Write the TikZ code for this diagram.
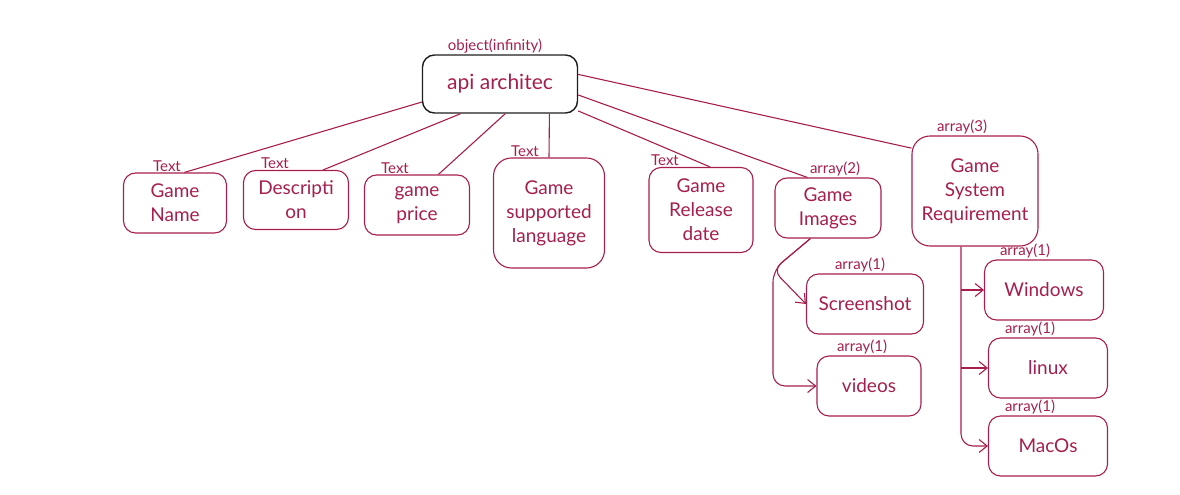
\documentclass[tikz,border=0pt]{standalone}
\usepackage{fontspec}
\setmainfont{Lato}
\usetikzlibrary{arrows.meta}
\definecolor{ink}{HTML}{A61E4D}
\definecolor{pen}{HTML}{1E1E1E}

\begin{document}
\begin{tikzpicture}[x=1pt, y=-1pt, line width=1.1pt, ink,
  box/.style = {draw=ink, text=ink, rounded corners=12pt, align=center, font=\fontsize{19}{24}\selectfont, inner sep=0pt},
  tag/.style = {text=ink, font=\fontsize{15}{16}\selectfont, inner sep=0.5pt},
  >={Straight Barb[length=8pt,width=13pt]}]
\useasboundingbox (0,0) rectangle (1180,495);

\node[draw=pen, line width=1.4pt, rounded corners=12pt, minimum width=155pt, minimum height=58pt, font=\fontsize{21}{24}\selectfont, text=ink, label={[tag,xshift=-5pt]above:object(infinity)}] (root) at (500,84) {api architec};

\node[box, minimum width=103pt, minimum height=60pt, label={[tag,xshift=-8pt]above:Text}] (name) at (175,203) {Game\\Name};
\node[box, minimum width=105pt, minimum height=59pt, label={[tag,xshift=-21pt]above:Text}] (desc) at (296,200) {Descripti\\on};
\node[box, minimum width=105pt, minimum height=60pt, label={[tag,xshift=-22pt]above:Text}] (price) at (417,205) {game\\price};
\node[box, rounded corners=18pt, minimum width=111pt, minimum height=110pt, label={[tag,xshift=-24pt]above:Text}] (lang) at (549,213) {Game\\supported\\language};
\node[box, minimum width=104pt, minimum height=85pt, label={[tag,xshift=-36pt]above:Text}] (rel) at (701,210) {Game\\Release\\date};
\node[box, minimum width=106pt, minimum height=60pt, label={[tag,xshift=7pt]above:array(2)}] (img) at (828,208) {Game\\Images};
\node[box, rounded corners=18pt, minimum width=126pt, minimum height=110pt, label={[tag,xshift=-13pt]above:array(3)}] (sys) at (975,191) {Game\\System\\Requirement};
\node[box, minimum width=117pt, minimum height=60pt, label={[tag,xshift=-5pt]above:array(1)}] (shot) at (865,304) {Screenshot};
\node[box, minimum width=104pt, minimum height=60pt, label={[tag,xshift=-7pt]above:array(1)}] (vid) at (869,386) {videos};
\node[box, minimum width=119pt, minimum height=60pt, label={[tag,xshift=-19pt]above:array(1)}] (win) at (1044,290) {Windows};
\node[box, minimum width=119pt, minimum height=60pt, label={[tag,xshift=-18pt]above:array(1)}] (lin) at (1048,368) {linux};
\node[box, minimum width=119pt, minimum height=60pt, label={[tag,xshift=-18pt]above:array(1)}] (mac) at (1048,446) {MacOs};

% fields of the root object
\draw (root.193) -- (name.73);
\draw (root.217) -- (desc.48);
\draw (root.280) -- (price.55);
\draw (root.329) -- (lang.north);
\draw (root.341) -- (rel.78);
\draw (root.352) -- (img.124);
\draw (root.7) -- (sys.146);

% game images
\coordinate (fork) at (773,270);
\draw[->, rounded corners=10pt] (img.240) -- (fork) -- (shot.west);
\draw[->, rounded corners=12pt] (img.240) -- (fork) |- (vid.west);

% system requirement
\coordinate (trunk) at ([xshift=-14pt]sys.south);
\draw[->, rounded corners=12pt] (trunk) |- (mac.west);
\draw[->] (trunk |- win.west) -- (win.west);
\draw[->] (trunk |- lin.west) -- (lin.west);
\end{tikzpicture}
\end{document}
